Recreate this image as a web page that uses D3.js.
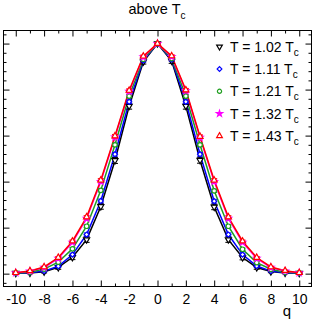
<!DOCTYPE html>
<html><head><meta charset="utf-8">
<script src="https://cdn.jsdelivr.net/npm/d3@7"></script>
<style>body{margin:0;background:#fff}svg{display:block}text{font-family:"Liberation Sans",Arial,sans-serif}</style>
</head><body><svg id="c" width="314" height="322"></svg>
<script>
const qValues = [-10,-9,-8,-7,-6,-5,-4,-3,-2,-1,0,1,2,3,4,5,6,7,8,9,10];
const seriesLabels = ["1.02","1.11","1.21","1.32","1.43"];
const t102 = [0.002,0.003,0.008,0.027,0.071,0.148,0.292,0.492,0.728,0.921,1.0,0.924,0.728,0.493,0.290,0.148,0.070,0.027,0.009,0.003,0.002];
const t111 = [0.002,0.004,0.011,0.032,0.083,0.170,0.316,0.519,0.747,0.926,1.0,0.930,0.747,0.519,0.315,0.170,0.083,0.033,0.011,0.004,0.002];
const t121 = [0.003,0.006,0.020,0.050,0.108,0.206,0.362,0.560,0.772,0.932,1.0,0.935,0.772,0.560,0.360,0.206,0.106,0.048,0.019,0.006,0.003];
const t132 = [0.004,0.011,0.027,0.066,0.136,0.240,0.400,0.593,0.792,0.942,1.0,0.943,0.794,0.592,0.400,0.240,0.136,0.066,0.027,0.011,0.004];
const t143 = [0.004,0.012,0.029,0.070,0.141,0.246,0.406,0.598,0.796,0.945,1.0,0.946,0.798,0.596,0.406,0.246,0.141,0.070,0.029,0.013,0.004];
const e102 = [0.002,0.003,0.005,0.008,0.010,0.012,0.012,0.013,0.013,0.010,0.005,0.010,0.013,0.013,0.012,0.012,0.010,0.008,0.005,0.003,0.002];
const e111 = [0.002,0.002,0.003,0.005,0.006,0.007,0.008,0.008,0.008,0.006,0.004,0.006,0.008,0.008,0.008,0.007,0.006,0.005,0.003,0.002,0.002];
const e121 = [0.002,0.002,0.003,0.004,0.005,0.006,0.007,0.007,0.007,0.005,0.003,0.005,0.007,0.007,0.007,0.006,0.005,0.004,0.003,0.002,0.002];
const e132 = [0.002,0.002,0.003,0.004,0.005,0.006,0.007,0.007,0.007,0.005,0.003,0.005,0.007,0.007,0.007,0.006,0.005,0.004,0.003,0.002,0.002];
const e143 = [0.002,0.002,0.003,0.004,0.005,0.006,0.007,0.007,0.007,0.005,0.003,0.005,0.007,0.007,0.007,0.006,0.005,0.004,0.003,0.002,0.002];
const xMajorTicks = [-10,-8,-6,-4,-2,0,2,4,6,8,10];
const xMinorTicks = [-9,-7,-5,-3,-1,1,3,5,7,9];
const yMajorTicks = [0,0.2,0.4,0.6,0.8,1.0];
const yMinorTicks = [-0.04,0.04,0.08,0.12,0.16,0.24,0.28,0.32,0.36,0.44,0.48,0.52,0.56,0.64,0.68,0.72,0.76,0.84,0.88,0.92,0.96,1.04];

const series = [
  {label: seriesLabels[0], values: t102, errs: e102, color: "#000000", sym: "tdown", fill: false},
  {label: seriesLabels[1], values: t111, errs: e111, color: "#0000ff", sym: "diamond", fill: false},
  {label: seriesLabels[2], values: t121, errs: e121, color: "#1f9e1f", sym: "circle", fill: false},
  {label: seriesLabels[3], values: t132, errs: e132, color: "#ff00ff", sym: "star", fill: true},
  {label: seriesLabels[4], values: t143, errs: e143, color: "#ff0000", sym: "tup", fill: false}
];

const L = 3, R = 312, T = 30, B = 287;
const svg = d3.select("#c");
const x = d3.scaleLinear().domain([-10.9, 10.9]).range([L, R]);
const y = d3.scaleLinear().domain([-0.058, 1.059]).range([B, T]);

function symPath(s, size) {
  if (s === "tdown" || s === "tup") return d3.symbol(d3.symbolTriangle, size)();
  if (s === "diamond") return d3.symbol(d3.symbolSquare, size * 0.8)();
  if (s === "circle") return d3.symbol(d3.symbolCircle, size)();
  if (s === "star") return d3.symbol(d3.symbolStar, size)();
}
function drawMarker(g, s, cx, cy, color, fill, size) {
  const rot = s === "tdown" ? " rotate(180)" : (s === "diamond" ? " rotate(45)" : "");
  return g.append("path").attr("d", symPath(s, size))
    .attr("transform", `translate(${cx},${cy})` + rot)
    .attr("stroke", color).attr("stroke-width", 1.2)
    .attr("fill", fill ? color : "white");
}

// lines
const plot = svg.append("g");
series.forEach(s => {
  const line = d3.line().x((d,i) => x(qValues[i])).y(d => y(d));
  plot.append("path").datum(s.values).attr("d", line)
    .attr("fill", "none").attr("stroke", s.color).attr("stroke-width", 1.5);
});
series.forEach(s => {
  const g = plot.append("g");
  s.values.forEach((v, i) => {
    const cx = x(qValues[i]);
    const y1 = y(v - s.errs[i]), y2 = y(v + s.errs[i]);
    g.append("line").attr("x1", cx).attr("x2", cx).attr("y1", y1).attr("y2", y2)
      .attr("stroke", s.color).attr("stroke-width", 1);
    [y1, y2].forEach(yy => g.append("line").attr("x1", cx - 3).attr("x2", cx + 3)
      .attr("y1", yy).attr("y2", yy).attr("stroke", s.color).attr("stroke-width", 1));
  });
  s.values.forEach((v, i) => {
    drawMarker(g, s.sym, x(qValues[i]), y(v), s.color, s.fill, s.sym === "star" ? 12 : 16);
  });
});

// frame
svg.append("rect").attr("x", L + 0.5).attr("y", T + 0.5).attr("width", R - L - 1).attr("height", B - T - 1)
  .attr("fill", "none").attr("stroke", "#000").attr("stroke-width", 1);

const fmt = d => String(d);
const axB = svg.append("g").attr("transform", `translate(0,${B - 0.5})`)
  .call(d3.axisBottom(x).tickValues(xMajorTicks).tickSizeInner(-6).tickSizeOuter(0).tickPadding(8).tickFormat(fmt));
svg.append("g").attr("transform", `translate(0,${B - 0.5})`)
  .call(d3.axisBottom(x).tickValues(xMinorTicks).tickSizeInner(-3).tickSizeOuter(0).tickFormat(""));
svg.append("g").attr("transform", `translate(0,${T + 0.5})`)
  .call(d3.axisTop(x).tickValues(xMajorTicks).tickSizeInner(-6).tickSizeOuter(0).tickFormat(""));
svg.append("g").attr("transform", `translate(0,${T + 0.5})`)
  .call(d3.axisTop(x).tickValues(xMinorTicks).tickSizeInner(-3).tickSizeOuter(0).tickFormat(""));
svg.append("g").attr("transform", `translate(${L + 0.5},0)`)
  .call(d3.axisLeft(y).tickValues(yMajorTicks).tickSizeInner(-6).tickSizeOuter(0).tickFormat(""));
svg.append("g").attr("transform", `translate(${L + 0.5},0)`)
  .call(d3.axisLeft(y).tickValues(yMinorTicks).tickSizeInner(-3).tickSizeOuter(0).tickFormat(""));
svg.append("g").attr("transform", `translate(${R - 0.5},0)`)
  .call(d3.axisRight(y).tickValues(yMajorTicks).tickSizeInner(-6).tickSizeOuter(0).tickFormat(""));
svg.append("g").attr("transform", `translate(${R - 0.5},0)`)
  .call(d3.axisRight(y).tickValues(yMinorTicks).tickSizeInner(-3).tickSizeOuter(0).tickFormat(""));
svg.selectAll(".domain").remove();
svg.selectAll(".tick line").attr("stroke", "#000");
axB.selectAll("text").attr("font-size", 14).attr("fill", "#000")
  .attr("font-family", "Liberation Sans, Arial, sans-serif");

// axis title
svg.append("text").attr("x", 291).attr("y", 316).attr("text-anchor", "end")
  .attr("font-size", 15).text("q");

// title
const title = svg.append("text").attr("x", 157).attr("y", 14).attr("text-anchor", "middle").attr("font-size", 14.5);
title.append("tspan").text("above T");
title.append("tspan").attr("font-size", 10).attr("dy", 5).text("c");

// legend
series.forEach((s, i) => {
  const cy = 46.7 + i * 22.3;
  drawMarker(svg, s.sym, 219.5, cy, s.color, s.fill, s.sym === "star" ? 12 : 14);
  const t = svg.append("text").attr("x", 230).attr("y", cy + 5).attr("font-size", 14);
  t.append("tspan").text(`T = ${s.label} T`);
  t.append("tspan").attr("font-size", 10).attr("dy", 4).text("c");
});
</script></body></html>
